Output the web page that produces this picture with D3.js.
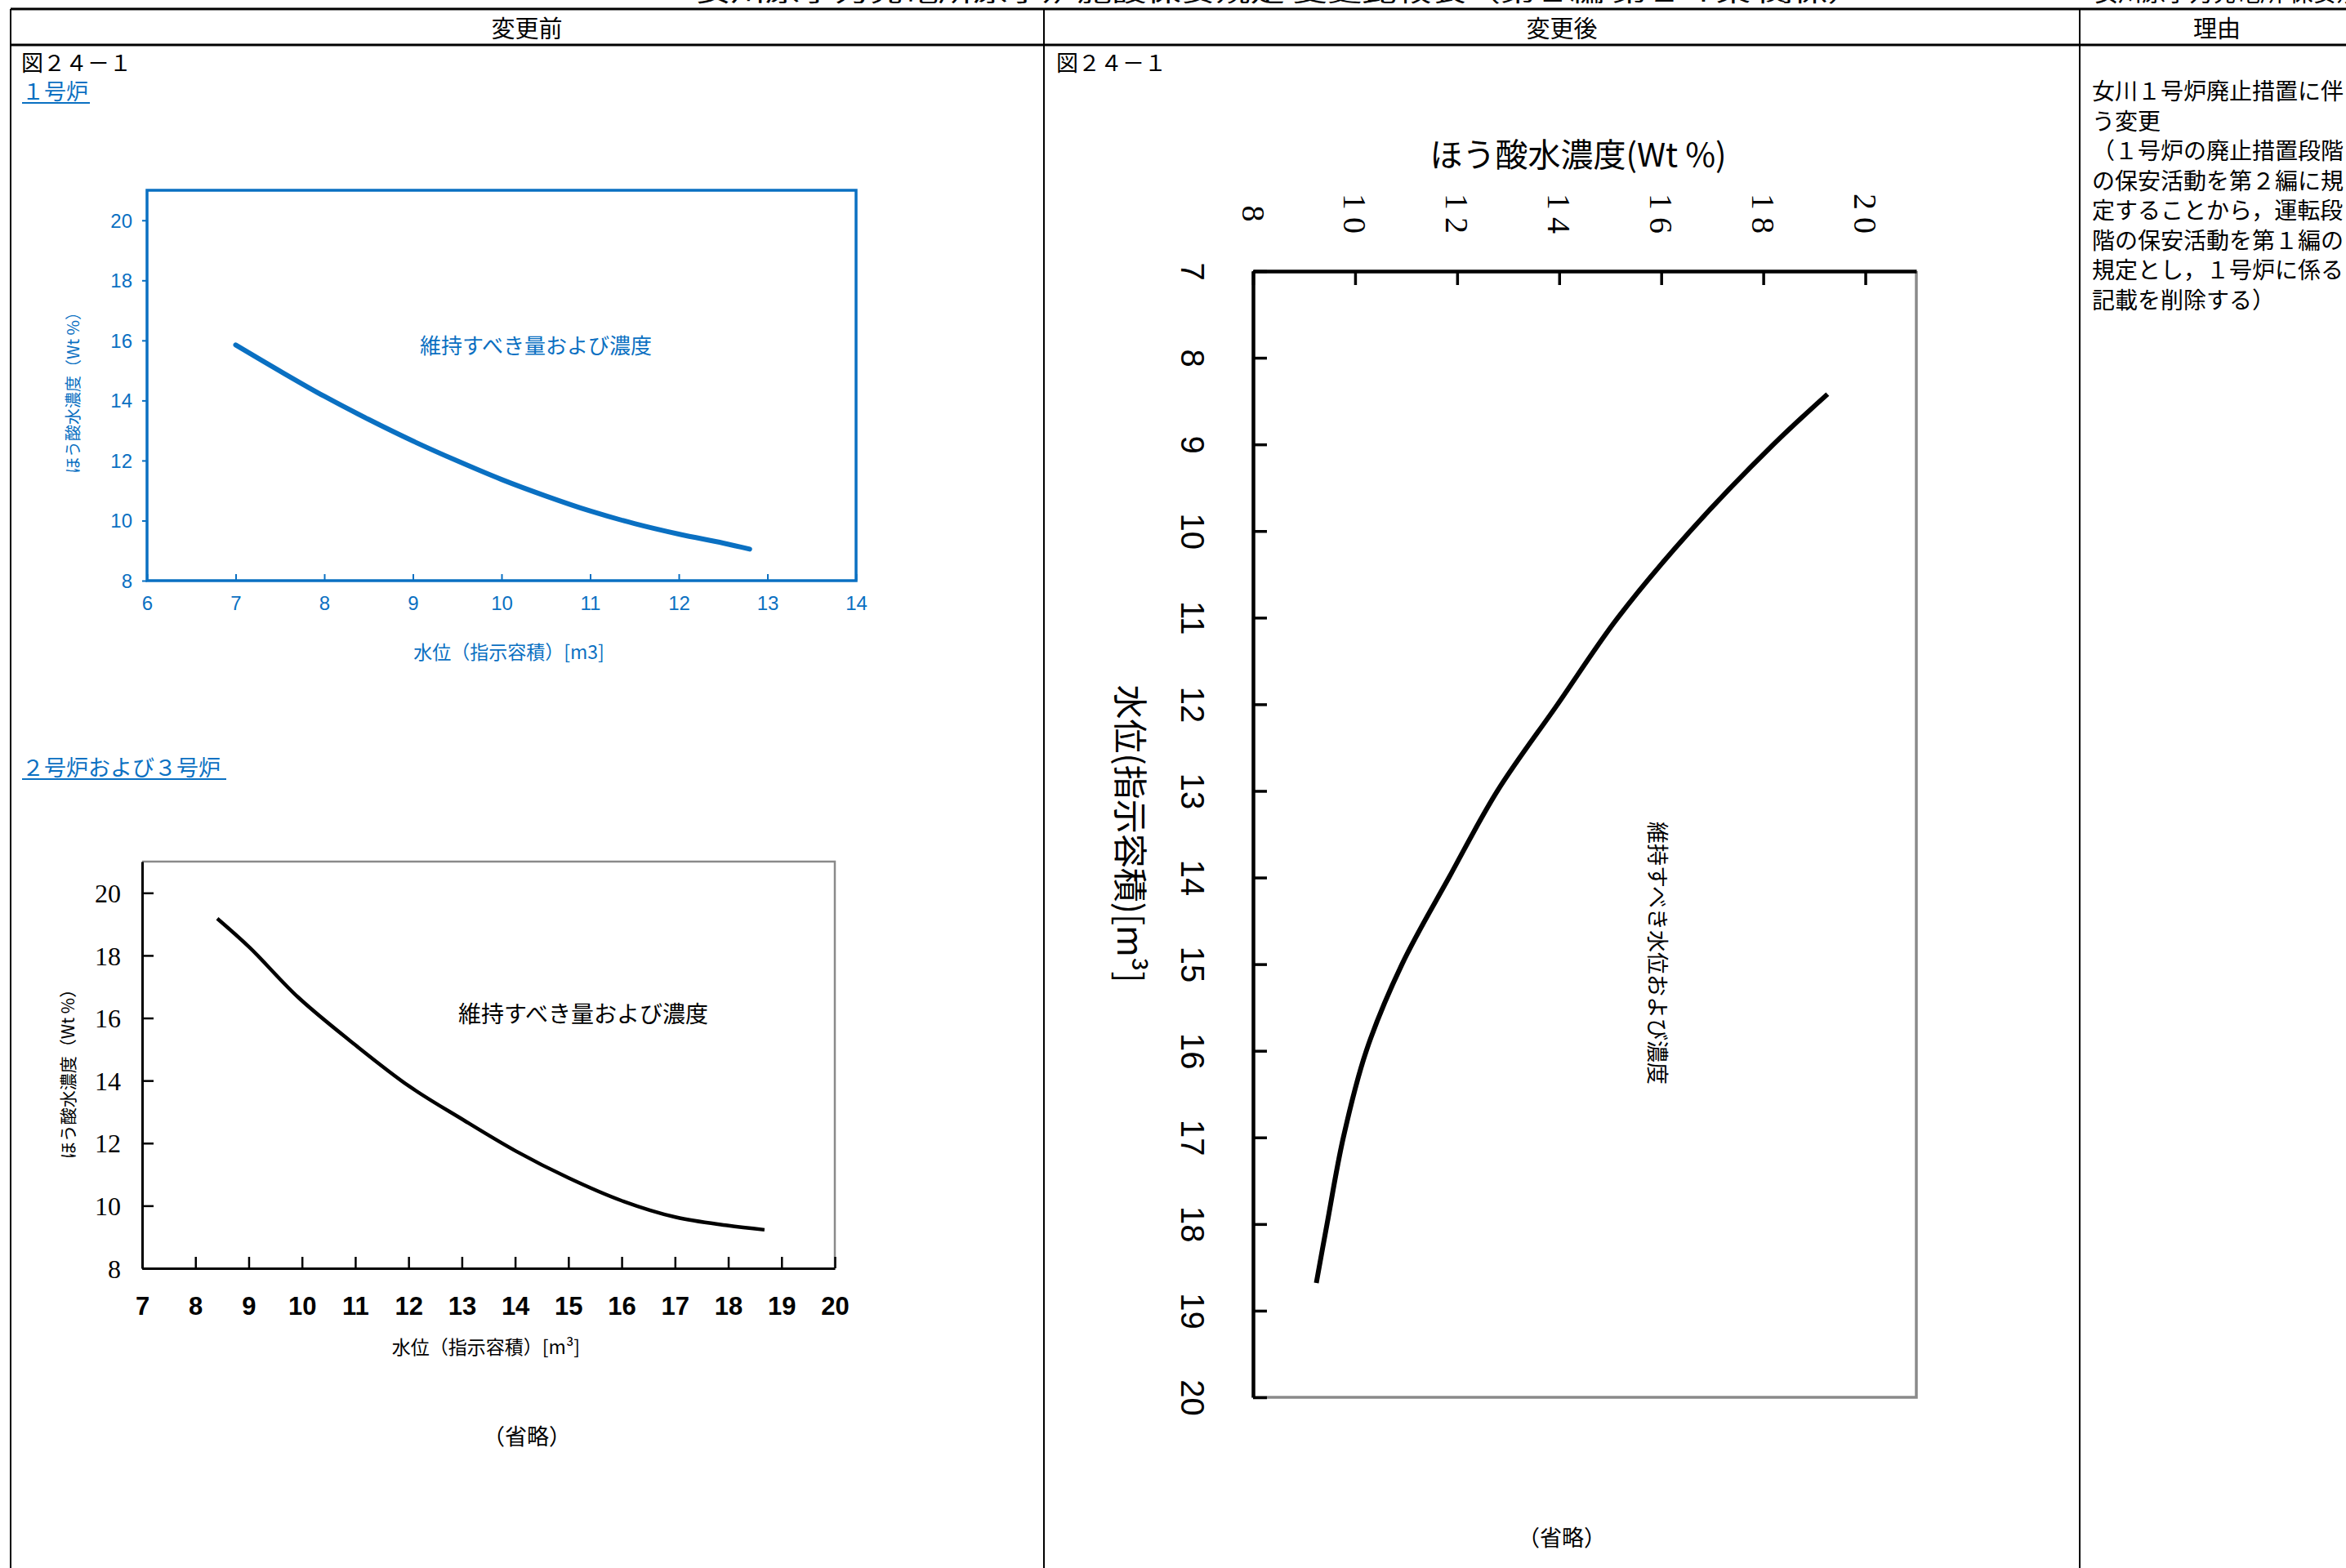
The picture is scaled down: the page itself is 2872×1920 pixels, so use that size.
<!DOCTYPE html>
<html>
<head>
<meta charset="utf-8">
<script src="https://cdn.jsdelivr.net/npm/d3@7"></script>
<style>
  body { margin: 0; background: #fff; }
  svg { display: block; }
</style>
</head>
<body>
<svg id="page"></svg>
<script>
// ---- texts ----
const headerCells = ["変更前", "変更後", "理由"];
const figureNo = "図２４－１";
const unit1Title = "１号炉";
const unit23Title = "２号炉および３号炉";
const omittedText = "（省略）";
const noteLabel = "維持すべき量および濃度";
const noteLabelRot = "維持すべき水位および濃度";
const reasonLines = [
  "女川１号炉廃止措置に伴",
  "う変更",
  "（１号炉の廃止措置段階",
  "の保安活動を第２編に規",
  "定することから，運転段",
  "階の保安活動を第１編の",
  "規定とし，１号炉に係る",
  "記載を削除する）"
];
const pageTitleLeft = "女川原子力発電所原子炉施設保安規定 変更比較表（第１編 第２４条 関係）";
const pageTitleRight = "女川原子力発電所 保安規定";

// ---- data : unit 1, before change (volume m3 -> boric acid wt%) ----
const unit1Vol  = [7.0, 7.5, 8.0, 8.5, 9.0, 9.5, 10.0, 10.5, 11.0, 11.5, 12.0, 12.5, 12.8];
const unit1Conc = [15.85, 14.98, 14.14, 13.37, 12.65, 11.99, 11.37, 10.82, 10.32, 9.90, 9.55, 9.25, 9.05];

// ---- data : units 2 and 3, before change ----
const unit23Vol  = [8.41, 9.02, 9.93, 11.0, 12.02, 13.02, 14.01, 15.0, 16.0, 17.02, 17.98, 18.68];
const unit23Conc = [19.18, 18.25, 16.66, 15.14, 13.81, 12.75, 11.75, 10.89, 10.16, 9.63, 9.37, 9.23];

// ---- data : units 2 and 3, after change (rotated figure) ----
const newVol  = [8.42, 9.0, 10.0, 11.0, 12.0, 13.0, 14.0, 15.0, 16.0, 17.0, 18.0, 18.68];
const newConc = [19.26, 18.2, 16.57, 15.15, 13.97, 12.79, 11.84, 10.92, 10.22, 9.77, 9.45, 9.24];

// ---- tick labels ----
const vol1Ticks  = [6, 7, 8, 9, 10, 11, 12, 13, 14];
const vol23Ticks = [7, 8, 9, 10, 11, 12, 13, 14, 15, 16, 17, 18, 19, 20];
const concTicks  = [8, 10, 12, 14, 16, 18, 20];

// ---- page setup ----
const W = 2872, H = 1920;
const blue = "#0a70c2";
const jp = "'Noto Sans CJK JP', sans-serif";

const svg = d3.select("#page").attr("width", W).attr("height", H);
svg.append("rect").attr("width", W).attr("height", H).attr("fill", "#fff");

// cut-off page title at the very top
svg.append("text").attr("x", 852).attr("y", 2)
  .attr("textLength", 1428).attr("lengthAdjust", "spacingAndGlyphs")
  .style("font-family", jp).style("font-size", "29px").text(pageTitleLeft);
svg.append("text").attr("x", 2564).attr("y", 2)
  .style("font-family", jp).style("font-size", "29px").text(pageTitleRight);

// ---- table frame ----
const colX = [13, 1278, 2546];
const table = svg.append("g").attr("stroke", "#000").attr("fill", "none");
table.append("line").attr("x1", 13).attr("x2", W).attr("y1", 11).attr("y2", 11).attr("stroke-width", 3);
table.append("line").attr("x1", 13).attr("x2", W).attr("y1", 55).attr("y2", 55).attr("stroke-width", 3);
colX.forEach(x => {
  table.append("line").attr("x1", x).attr("x2", x).attr("y1", 11).attr("y2", H).attr("stroke-width", 2);
});

const headCenters = [645, 1912, 2714];
headerCells.forEach((t, i) => {
  svg.append("text").attr("x", headCenters[i]).attr("y", 33)
    .attr("text-anchor", "middle").attr("dominant-baseline", "central")
    .style("font-family", jp).style("font-size", "29px").text(t);
});

function label(x, y, t, opts) {
  opts = opts || {};
  const el = svg.append("text").attr("x", x).attr("y", y)
    .attr("text-anchor", opts.anchor || "start").attr("dominant-baseline", "central")
    .attr("fill", opts.color || "#000")
    .style("font-family", opts.font || jp).style("font-size", (opts.size || 27) + "px")
    .text(t);
  if (opts.rotate) el.attr("transform", "rotate(" + opts.rotate + "," + x + "," + y + ")");
  return el;
}

label(26, 75, figureNo);
label(1293, 75, figureNo);
label(27, 110, unit1Title, {color: blue});
svg.append("line").attr("x1", 27).attr("x2", 110).attr("y1", 126).attr("y2", 126).attr("stroke", blue).attr("stroke-width", 2);
label(27, 938, unit23Title, {color: blue});
svg.append("line").attr("x1", 27).attr("x2", 277).attr("y1", 954).attr("y2", 954).attr("stroke", blue).attr("stroke-width", 2);
label(645, 1757, omittedText, {anchor: "middle"});
label(1912, 1881, omittedText, {anchor: "middle"});

reasonLines.forEach((t, i) => {
  label(2561, 110 + i * 36.5, t, {size: 28});
});

// ================= chart 1 : unit 1 (blue) =================
const c1 = {left: 180, top: 233, right: 1048, bottom: 711};
const x1 = d3.scaleLinear().domain([6, 14]).range([c1.left, c1.right]);
const y1 = d3.scaleLinear().domain([8, 21]).range([c1.bottom, c1.top]);
const g1 = svg.append("g");

const ax1 = g1.append("g").attr("transform", "translate(0," + c1.bottom + ")")
  .call(d3.axisBottom(x1).tickValues(vol1Ticks).tickSize(-8).tickSizeOuter(0));
const ay1 = g1.append("g").attr("transform", "translate(" + c1.left + ",0)")
  .call(d3.axisLeft(y1).tickValues(concTicks).tickSize(6).tickSizeOuter(0));
[ax1, ay1].forEach(a => {
  a.select(".domain").remove();
  a.selectAll("line").attr("stroke", blue).attr("stroke-width", 2);
  a.selectAll("text").attr("fill", blue)
    .style("font-family", "'Liberation Sans Narrow', 'Liberation Sans', sans-serif").style("font-size", "24px");
});
ax1.selectAll("text").attr("y", 28).attr("dy", "0.35em");
ay1.selectAll("text").attr("x", -18).attr("dy", "0.35em");

g1.append("rect").attr("x", c1.left).attr("y", c1.top)
  .attr("width", c1.right - c1.left).attr("height", c1.bottom - c1.top)
  .attr("fill", "none").attr("stroke", blue).attr("stroke-width", 3.5);

const line1 = d3.line().x(d => x1(d[0])).y(d => y1(d[1])).curve(d3.curveCatmullRom);
g1.append("path").datum(d3.zip(unit1Vol, unit1Conc)).attr("d", line1)
  .attr("fill", "none").attr("stroke", blue).attr("stroke-width", 6).attr("stroke-linecap", "round");

label(656, 421, noteLabel, {anchor: "middle", color: blue, size: 26});
label(88, 476, "ほう酸水濃度（Wt %）", {anchor: "middle", color: blue, size: 20, rotate: -90});
label(623, 797, "水位（指示容積）[m3]", {anchor: "middle", color: blue, size: 23});

// ================= chart 2 : units 2 and 3 =================
const c2 = {left: 174, top: 1055, right: 1022, bottom: 1553};
const x2 = d3.scaleLinear().domain([7, 20]).range([c2.left, c2.right]);
const y2 = d3.scaleLinear().domain([8, 21]).range([c2.bottom, c2.top]);
const g2 = svg.append("g");

// gray top/right frame
g2.append("path")
  .attr("d", "M" + c2.left + "," + c2.top + "H" + c2.right + "V" + c2.bottom)
  .attr("fill", "none").attr("stroke", "#8a8a8a").attr("stroke-width", 2.5);

const ax2 = g2.append("g").attr("transform", "translate(0," + c2.bottom + ")")
  .call(d3.axisBottom(x2).tickValues(vol23Ticks).tickSize(-14).tickSizeOuter(0));
const ay2 = g2.append("g").attr("transform", "translate(" + c2.left + ",0)")
  .call(d3.axisLeft(y2).tickValues(concTicks).tickSize(-14).tickSizeOuter(0));
[ax2, ay2].forEach(a => {
  a.select(".domain").attr("stroke", "#000").attr("stroke-width", 3);
  a.selectAll(".tick line").attr("stroke", "#000").attr("stroke-width", 2.5);
});
ax2.selectAll("text").attr("y", 46).attr("dy", "0.35em")
  .style("font-family", "'Liberation Sans Narrow', 'Liberation Sans', sans-serif")
  .style("font-size", "31px").style("font-weight", "bold");
ay2.selectAll("text").attr("x", -26).attr("dy", "0.35em")
  .style("font-family", "'Liberation Serif', serif").style("font-size", "32px");

const line2 = d3.line().x(d => x2(d[0])).y(d => y2(d[1])).curve(d3.curveCatmullRom);
g2.append("path").datum(d3.zip(unit23Vol, unit23Conc)).attr("d", line2)
  .attr("fill", "none").attr("stroke", "#000").attr("stroke-width", 4.5);

label(714, 1240, noteLabel, {anchor: "middle", size: 28});
label(82, 1310, "ほう酸水濃度（Wt %）", {anchor: "middle", size: 21, rotate: -90});
label(595, 1648, "水位（指示容積）[m³]", {anchor: "middle", size: 23});

// ================= chart 3 : units 2 and 3, rotated layout =================
const c3 = {left: 1534, top: 332, right: 2346, bottom: 1711};
const xc = d3.scaleLinear().domain([8, 21]).range([c3.left, c3.right]);
const yv = d3.scaleLinear().domain([7, 20]).range([c3.top, c3.bottom]);
const g3 = svg.append("g");

g3.append("path")
  .attr("d", "M" + c3.right + "," + c3.top + "V" + c3.bottom + "H" + c3.left)
  .attr("fill", "none").attr("stroke", "#8a8a8a").attr("stroke-width", 3.5);

const ax3 = g3.append("g").attr("transform", "translate(0," + c3.top + ")")
  .call(d3.axisTop(xc).tickValues(concTicks).tickSize(-17).tickSizeOuter(0));
const ay3 = g3.append("g").attr("transform", "translate(" + c3.left + ",0)")
  .call(d3.axisLeft(yv).tickValues(vol23Ticks).tickSize(-17).tickSizeOuter(0));
[ax3, ay3].forEach(a => {
  a.select(".domain").attr("stroke", "#000").attr("stroke-width", 4.5);
  a.selectAll(".tick line").attr("stroke", "#000").attr("stroke-width", 3.5);
});
ax3.selectAll("text").attr("y", 0).attr("x", 0).attr("dy", "0.35em")
  .attr("text-anchor", "middle").attr("transform", "translate(0,-66) rotate(90)")
  .style("font-family", "'Liberation Serif', serif").style("font-size", "40px")
  .style("letter-spacing", "9px");
ay3.selectAll("text").attr("x", 0).attr("y", 0).attr("dy", "0.35em")
  .attr("text-anchor", "middle").attr("transform", "translate(-74,0) rotate(90)")
  .style("font-family", "'Liberation Sans', sans-serif").style("font-size", "40px");

const line3 = d3.line().x(d => xc(d[1])).y(d => yv(d[0])).curve(d3.curveCatmullRom);
g3.append("path").datum(d3.zip(newVol, newConc)).attr("d", line3)
  .attr("fill", "none").attr("stroke", "#000").attr("stroke-width", 6);

label(1932, 187, "ほう酸水濃度(Wt %)", {anchor: "middle", size: 40});
label(1386, 1021, "水位(指示容積)[m³]", {anchor: "middle", size: 42, rotate: 90});
label(2030, 1167, noteLabelRot, {anchor: "middle", size: 27, rotate: 90});
</script>
</body>
</html>
